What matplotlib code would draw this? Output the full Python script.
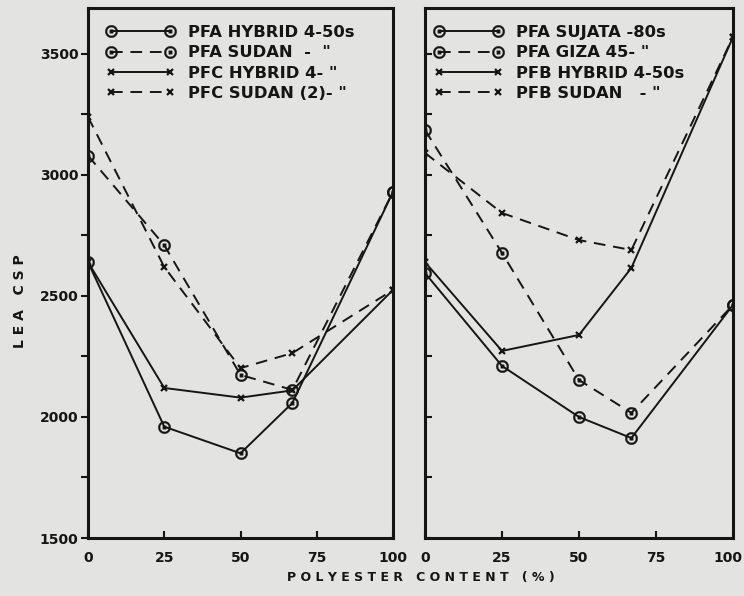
import matplotlib
matplotlib.use("Agg")
import matplotlib.pyplot as plt
from matplotlib.transforms import ScaledTranslation

# polyester content (%) for every series
pct = [0, 25, 50, 67, 100]

# left panel: LEA CSP
pfa_hybrid = [2640, 1960, 1850, 2058, 2930]
pfa_sudan = [3080, 2710, 2174, 2112, 2930]
pfc_hybrid = [2640, 2120, 2080, 2110, 2525]
pfc_sudan = [3240, 2620, 2202, 2264, 2525]

# right panel: LEA CSP
pfa_sujata = [2595, 2211, 2000, 1913, 2463]
pfa_giza = [3186, 2678, 2153, 2017, 2463]
pfb_hybrid = [2640, 2273, 2339, 2616, 3570]
pfb_sudan = [3091, 2843, 2731, 2690, 3570]

left_labels = ['PFA HYBRID 4-50s', 'PFA SUDAN  -  "', 'PFC HYBRID 4- "', 'PFC SUDAN (2)- "']
right_labels = ['PFA SUJATA -80s', 'PFA GIZA 45- "', 'PFB HYBRID 4-50s', 'PFB SUDAN   - "']

x_ticks = [0, 25, 50, 75, 100]
y_major = [1500, 2000, 2500, 3000, 3500]
y_minor = [1750, 2250, 2750, 3250]

paper = '#e3e3e1'
ink = '#151515'
dash = (0, (6, 4))
circ = dict(marker=r'$\odot$', ms=9, mew=0.2, mec=ink, mfc=ink)
cross = dict(marker='x', ms=5, mew=1.6, mec=ink)

plt.rcParams['font.family'] = 'DejaVu Sans'
plt.rcParams['font.weight'] = 'bold'

fig = plt.figure(figsize=(7.44, 5.96), dpi=100, facecolor=paper)
ax1 = fig.add_axes([88 / 744, 58 / 596, 305 / 744, 530 / 596], facecolor=paper)
ax2 = fig.add_axes([425 / 744, 58 / 596, 308 / 744, 530 / 596], facecolor=paper)

ax1.plot(pct, pfa_hybrid, color=ink, lw=1.4, label=left_labels[0], **circ)
ax1.plot(pct, pfa_sudan, color=ink, lw=1.4, ls=dash, label=left_labels[1], **circ)
ax1.plot(pct, pfc_hybrid, color=ink, lw=1.4, label=left_labels[2], **cross)
ax1.plot(pct, pfc_sudan, color=ink, lw=1.4, ls=dash, label=left_labels[3], **cross)

ax2.plot(pct, pfa_sujata, color=ink, lw=1.4, label=right_labels[0], **circ)
ax2.plot(pct, pfa_giza, color=ink, lw=1.4, ls=dash, label=right_labels[1], **circ)
ax2.plot(pct, pfb_hybrid, color=ink, lw=1.4, label=right_labels[2], **cross)
ax2.plot(pct, pfb_sudan, color=ink, lw=1.4, ls=dash, label=right_labels[3], **cross)

for ax in (ax1, ax2):
    ax.set_xlim(0, 100)
    ax.set_ylim(1500, 3690)
    for s in ax.spines.values():
        s.set_linewidth(2.2)
        s.set_color(ink)
    ax.set_xticks(x_ticks)
    ax.set_xticklabels([str(v) for v in x_ticks], fontsize=10, fontweight='bold')
    ax.set_yticks(y_major)
    ax.set_yticks(y_minor, minor=True)
    ax.tick_params(axis='x', direction='in', length=5, width=1.5, pad=9, colors=ink)
    ax.tick_params(axis='y', which='both', length=5, width=1.5, colors=ink)
    leg = ax.legend(loc='upper left', bbox_to_anchor=(0.06, 0.968), frameon=False,
                    numpoints=2, handlelength=4.2, handletextpad=0.8,
                    labelspacing=0.33, borderaxespad=0, borderpad=0,
                    prop=dict(size=11.8, weight='bold'))
    for t in leg.get_texts():
        t.set_color(ink)

ax1.tick_params(axis='y', which='both', direction='out', pad=2)
ax1.set_yticklabels([str(v) for v in y_major], fontsize=10, fontweight='bold')
ax2.tick_params(axis='y', which='both', direction='in', labelleft=False)
ax2.get_legend().set_bbox_to_anchor((0.03, 0.968))

# keep the last "100" inside the figure edge
last = ax2.get_xticklabels()[-1]
last.set_transform(last.get_transform() + ScaledTranslation(-5 / 100, 0, fig.dpi_scale_trans))

fig.text(20 / 744, 1 - 301 / 596, 'L E A   C S P', rotation=90, ha='center', va='center',
         fontsize=10, fontweight='bold', color=ink)
fig.text(421 / 744, 1 - 578 / 596, 'P O L Y E S T E R   C O N T E N T   ( % )',
         ha='center', va='center', fontsize=9, fontweight='bold', color=ink)

fig.savefig('out.png', dpi=100, facecolor=paper)
